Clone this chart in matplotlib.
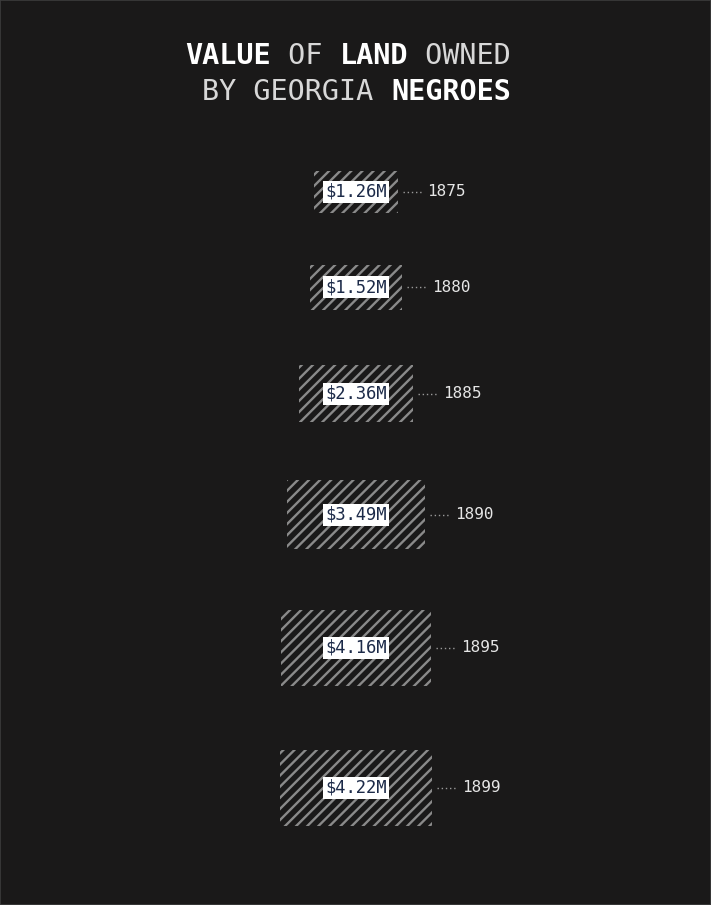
import numpy as np
import matplotlib
matplotlib.use("Agg")
import matplotlib.pyplot as plt
from matplotlib.patches import Rectangle

# ---- data ----
years = ["1875", "1880", "1885", "1890", "1895", "1899"]
values = [1.26, 1.52, 2.36, 3.49, 4.16, 4.22]          # millions of dollars
labels = ["$1.26M", "$1.52M", "$2.36M", "$3.49M", "$4.16M", "$4.22M"]

title_line1 = [("VALUE", "bold"), (" OF ", "normal"), ("LAND", "bold"), (" OWNED", "normal")]
title_line2 = [("BY GEORGIA ", "normal"), ("NEGROES", "bold")]

# ---- style ----
BG = "#1a1919"
HATCH = "#8a8a8a"
W, H = 711, 905
plt.rcParams["hatch.linewidth"] = 1.7
MONO = "DejaVu Sans Mono"

fig = plt.figure(figsize=(W / 100, H / 100), dpi=100, facecolor=BG)
ax = fig.add_axes([0, 0, 1, 1])
ax.set_facecolor(BG)
ax.set_xlim(0, W)
ax.set_ylim(H, 0)
ax.axis("off")

# figure border
fig.patches.append(Rectangle((0, 0), 1, 1, transform=fig.transFigure,
                             fill=False, edgecolor="#3c3c3c", lw=1.2))

# ---- title (monospace: place segments by character count) ----
TFS = 20.5
adv = 0.602 * TFS * 100 / 72
right_edge = 511
for line, base in ((title_line1, 64), (title_line2, 100)):
    total = sum(len(s) for s, _ in line)
    x = right_edge - total * adv
    for seg, wt in line:
        ax.text(x, base, seg, fontsize=TFS, family=MONO, fontweight=wt,
                color="#ffffff" if wt == "bold" else "#d8d8d8",
                ha="left", va="baseline")
        x += len(seg) * adv

# ---- squares: area proportional to value, 2:1 aspect ----
k = 74.0
cx = 356
top = 171
for i, (v, lab, yr) in enumerate(zip(values, labels, years)):
    w = k * np.sqrt(v)
    h = w / 2
    x0 = cx - w / 2
    ax.add_patch(Rectangle((x0, top), w, h, facecolor="none", edgecolor=HATCH,
                           hatch="///", linewidth=0))
    cy = top + h / 2
    ax.text(cx, cy, lab, fontsize=12.3, family=MONO, color="#1c2a48",
            ha="center", va="center",
            bbox=dict(boxstyle="square,pad=0.12", facecolor="white", edgecolor="none"))
    xr = x0 + w
    ax.plot([xr + 5, xr + 25], [cy, cy], linestyle=(0, (1, 2)), color="#9a9a9a", lw=1)
    ax.text(xr + 30, cy, yr, fontsize=11.5, family=MONO, color="#e6e6e6",
            ha="left", va="center")
    top = top + h + 52 + 3 * i

fig.savefig("out.png", dpi=100, facecolor=BG)
